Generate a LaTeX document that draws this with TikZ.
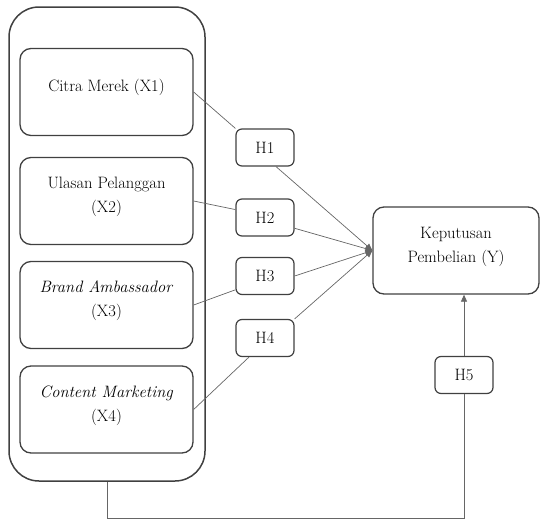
\documentclass[tikz,border=0pt]{standalone}
\usetikzlibrary{arrows.meta}
\newcommand{\varlabel}[1]{\raisebox{5pt}[\height][\depth]{\begin{tabular}{@{}c@{}}#1\end{tabular}}}

\begin{document}
\begin{tikzpicture}[x=1pt, y=-1pt,
    kotak/.style={draw=black!75, line width=1.3pt, rounded corners=11pt, text=black,
        font=\fontsize{16.5}{24}\selectfont, minimum width=173pt, minimum height=87pt, inner sep=2pt},
    hipo/.style={draw=black!75, line width=1.2pt, rounded corners=6pt, text=black,
        font=\fontsize{16.5}{24}\selectfont, minimum width=58pt, minimum height=37pt, inner sep=1pt},
    garis/.style={draw=black!60, line width=0.7pt},
    panah/.style={garis, -{Triangle[width=6pt,length=7pt]}}]
        \useasboundingbox (0,0) rectangle (541,520);

        % Kelompok variabel X
        \node[draw=black!75, line width=1.5pt, rounded corners=30pt,
            minimum width=196pt, minimum height=474pt] (grup) at (107,244) {};

        \node[kotak] (x1) at (106.5,92) {\varlabel{Citra Merek (X1)}};
        \node[kotak] (x2) at (106.5,201) {\varlabel{Ulasan Pelanggan\\(X2)}};
        \node[kotak] (x3) at (106.5,305) {\varlabel{\textit{Brand Ambassador}\\(X3)}};
        \node[kotak] (x4) at (106.5,409.5) {\varlabel{\textit{Content Marketing}\\(X4)}};

        % Variabel Y
        \node[kotak, minimum width=166pt] (y) at (456,250.5) {\varlabel{Keputusan\\Pembelian (Y)}};

        % Hipotesis
        \node[hipo] (h1) at (265,147.5) {H1};
        \node[hipo] (h2) at (265,217.5) {H2};
        \node[hipo] (h3) at (265,276) {H3};
        \node[hipo] (h4) at (265,338) {H4};
        \node[hipo] (h5) at (464,375) {H5};

        % Garis X ke H
        \draw[garis] (x1.east) -- (h1.north west);
        \draw[garis] (x2.east) -- (h2.165);
        \draw[garis] (x3.east) -- (h3.-155);
        \draw[garis] (x4.east) -- (h4.-130);

        % Panah H ke Y
        \draw[panah] (h1.-60) -- (y.west);
        \draw[panah] (h2.-20) -- (y.west);
        \draw[panah] (h3.east) -- (y.west);
        \draw[panah] (h4.north east) -- (y.west);

        % Simultan
        \draw[garis] (grup.south) -- ++(0,37) -| (h5.south);
        \draw[panah] (h5.north) -- (h5.north |- y.south);
\end{tikzpicture}
\end{document}
